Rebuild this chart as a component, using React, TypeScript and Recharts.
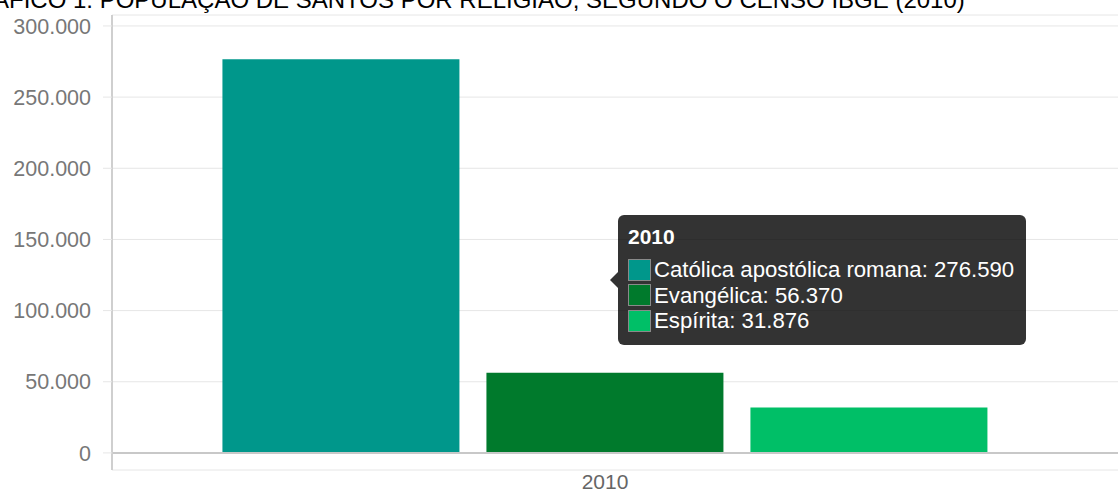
import React from 'react';
import { BarChart, Bar, XAxis, YAxis, CartesianGrid, Tooltip, ReferenceLine } from 'recharts';

const title = 'GRÁFICO 1: POPULAÇÃO DE SANTOS POR RELIGIÃO, SEGUNDO O CENSO IBGE (2010)';
const categories = ['2010'];
const catolica = [276590];
const evangelica = [56370];
const espirita = [31876];
const yTicks = [0, 50000, 100000, 150000, 200000, 250000, 300000];

const seriesNames = ['Católica apostólica romana', 'Evangélica', 'Espírita'];
const seriesKeys = ['catolica', 'evangelica', 'espirita'];
const seriesColors = ['#00978b', '#007a2c', '#00bf67'];

const data = categories.map((c, i) => ({
  year: c,
  catolica: catolica[i],
  evangelica: evangelica[i],
  espirita: espirita[i],
}));

const fmt = (v: number) => String(Math.round(v)).replace(/\B(?=(\d{3})+(?!\d))/g, '.');

const FONT = '"Liberation Sans", Arial, sans-serif';

const TipContent = (props: any) => {
  const { payload, label } = props;
  if (!payload || !payload.length) return null;
  return (
    <div style={{ position: 'relative', paddingLeft: 8, fontFamily: FONT }}>
      <div
        style={{
          position: 'absolute',
          left: 0,
          top: 57,
          width: 0,
          height: 0,
          borderTop: '8px solid transparent',
          borderBottom: '8px solid transparent',
          borderRight: '8px solid rgba(0,0,0,0.8)',
        }}
      />
      <div
        style={{
          background: 'rgba(0,0,0,0.8)',
          borderRadius: 6,
          padding: '9px 12px 11px 10px',
          color: '#fff',
          whiteSpace: 'nowrap',
        }}
      >
        <div style={{ fontWeight: 'bold', fontSize: 21, lineHeight: '26px', marginBottom: 7 }}>{label}</div>
        {payload.map((p: any, i: number) => (
          <div key={i} style={{ display: 'flex', alignItems: 'center', fontSize: 22.2, lineHeight: '25.5px' }}>
            <span
              style={{
                display: 'inline-block',
                width: 23,
                height: 22,
                boxSizing: 'border-box',
                background: p.color,
                border: '1px solid #8a8a8a',
                marginRight: 3,
              }}
            />
            <span>{p.name}: {fmt(p.value)}</span>
          </div>
        ))}
      </div>
    </div>
  );
};

export default function App() {
  return (
    <div
      style={{
        position: 'absolute',
        left: 0,
        top: 0,
        width: 1118,
        height: 490,
        overflow: 'hidden',
        background: '#fff',
        fontFamily: FONT,
      }}
    >
      <div
        style={{
          position: 'absolute',
          left: -43,
          top: -14,
          fontSize: 24,
          color: '#000',
          whiteSpace: 'nowrap',
          lineHeight: '27px',
        }}
      >
        {title}
      </div>
      <BarChart
        width={1118}
        height={490}
        data={data}
        margin={{ top: 15, right: 0, bottom: 0, left: 0 }}
        barCategoryGap="11.2%"
        barGap={27}
        style={{ fontFamily: FONT }}
      >
        <CartesianGrid vertical={false} stroke="#e6e6e6" strokeWidth={1} />
        <XAxis
          dataKey="year"
          axisLine={false}
          tickLine={false}
          tickSize={2}
          tickMargin={2}
          height={20}
          padding={{ left: 0, right: 20 }}
          tick={{ fill: '#666', fontSize: 21 }}
        />
        <YAxis
          width={112}
          domain={[-12000, 307700]}
          ticks={yTicks}
          tickFormatter={fmt}
          axisLine={{ stroke: '#cfcfcf', strokeWidth: 2 }}
          tickLine={{ stroke: '#e6e6e6' }}
          tickSize={9}
          tickMargin={12}
          tick={{ fill: '#777', fontSize: 21.5 }}
          allowDataOverflow
        />
        <ReferenceLine y={0} stroke="#c8c8c8" strokeWidth={2} />
        {seriesKeys.map((k, i) => (
          <Bar key={k} dataKey={k} name={seriesNames[i]} fill={seriesColors[i]} isAnimationActive={false} />
        ))}
        <Tooltip
          active
          defaultIndex={0}
          cursor={false}
          position={{ x: 610, y: 215 }}
          content={<TipContent />}
          wrapperStyle={{ transition: 'none' }}
          isAnimationActive={false}
        />
      </BarChart>
    </div>
  );
}
